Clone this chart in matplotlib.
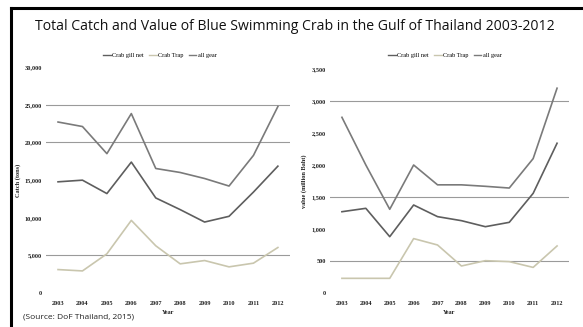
import matplotlib
matplotlib.use("Agg")
import matplotlib.pyplot as plt
from matplotlib.lines import Line2D

years = [2003, 2004, 2005, 2006, 2007, 2008, 2009, 2010, 2011, 2012]

# Catch (tons)
catch_gillnet = [14760, 14980, 13200, 17380, 12620, 11070, 9420, 10180, 13400, 16840]
catch_trap    = [3110, 2930, 5200, 9640, 6270, 3870, 4310, 3470, 3960, 6040]
catch_all     = [22700, 22100, 18500, 23820, 16530, 16000, 15200, 14200, 18270, 24760]

# Value (million Baht)
value_gillnet = [1270, 1323, 880, 1375, 1193, 1130, 1036, 1104, 1557, 2340]
value_trap    = [229, 229, 229, 850, 750, 422, 505, 490, 400, 735]
value_all     = [2745, 2000, 1308, 2000, 1690, 1690, 1667, 1640, 2100, 3200]

catch_ticks = [0, 5000, 10000, 15000, 20000, 25000, 30000]
value_ticks = [0, 500, 1000, 1500, 2000, 2500, 3000, 3500]
catch_grid = [5000, 20000, 25000]
value_grid = [500, 1500, 3000]

C_GILL, C_TRAP, C_ALL = "#5e5e5e", "#c9c6ae", "#7a7a7a"
SERIF = "Liberation Serif"

fig = plt.figure(figsize=(5.83, 3.27), dpi=100)
fig.patch.set_facecolor("white")

# black frame lines (top and left)
fig.add_artist(Line2D([10.5/583, 1], [1-7.5/327]*2, color="black", lw=2.2, transform=fig.transFigure))
fig.add_artist(Line2D([10.5/583]*2, [0, 1-7.5/327], color="black", lw=2.2, transform=fig.transFigure))

fig.text(295/583, 1-27/327, "Total Catch and Value of Blue Swimming Crab in the Gulf of Thailand 2003-2012",
         ha="center", va="center", fontsize=10.1, family="Open Sans", color="#111")

def panel(rect, gill, trap, allg, ticks, grid, ylabel, legx, labx):
    ax = fig.add_axes(rect)
    x = range(len(years))
    for g in grid:
        ax.axhline(g, color="#9a9a9a", lw=0.8, zorder=0)
    ax.plot(x, allg, color=C_ALL, lw=1.2)
    ax.plot(x, gill, color=C_GILL, lw=1.2)
    ax.plot(x, trap, color=C_TRAP, lw=1.2)
    ax.set_xlim(-0.5, len(years) - 0.5)
    ax.set_ylim(ticks[0], ticks[-1])
    ax.set_yticks(ticks)
    ax.set_yticklabels([f"{t:,}" for t in ticks], family=SERIF, fontsize=4.5, fontweight="bold", color="#222")
    ax.set_xticks(list(x))
    ax.set_xticklabels([str(y) for y in years], family=SERIF, fontsize=4.5, fontweight="bold", color="#222")
    ax.tick_params(axis="y", length=0, pad=3)
    ax.tick_params(axis="x", length=0, pad=6)
    for s in ax.spines.values():
        s.set_visible(False)
    ax.set_xlabel("Year", family=SERIF, fontsize=4.5, fontweight="bold", color="#222", labelpad=3)
    ax.set_ylabel(ylabel, family=SERIF, fontsize=4.5, fontweight="bold", color="#222")
    ax.yaxis.set_label_coords(labx, 0.5)
    handles = [Line2D([], [], color=C_GILL, lw=1), Line2D([], [], color=C_TRAP, lw=1),
               Line2D([], [], color=C_ALL, lw=1)]
    fig.legend(handles, ["Crab gill net", "Crab Trap", "all gear"], loc="center",
               bbox_to_anchor=(legx, 1-55/327), ncol=3, frameon=False,
               prop={"family": SERIF, "size": 4.5}, handlelength=1.2, handletextpad=0.3, columnspacing=0.8)
    return ax

panel([0.0786, 0.104, 0.419, 0.691], catch_gillnet, catch_trap, catch_all,
      catch_ticks, catch_grid, "Catch (tons)", 160/583, -0.1)
panel([0.566, 0.104, 0.410, 0.685], value_gillnet, value_trap, value_all,
      value_ticks, value_grid, "value (million Baht)", 445/583, -0.095)

fig.text(23/583, 1-317/327, "(Source: DoF Thailand, 2015)", ha="left", va="center",
         fontsize=6, family="Open Sans", color="#222")

fig.savefig("out.png", dpi=100)
